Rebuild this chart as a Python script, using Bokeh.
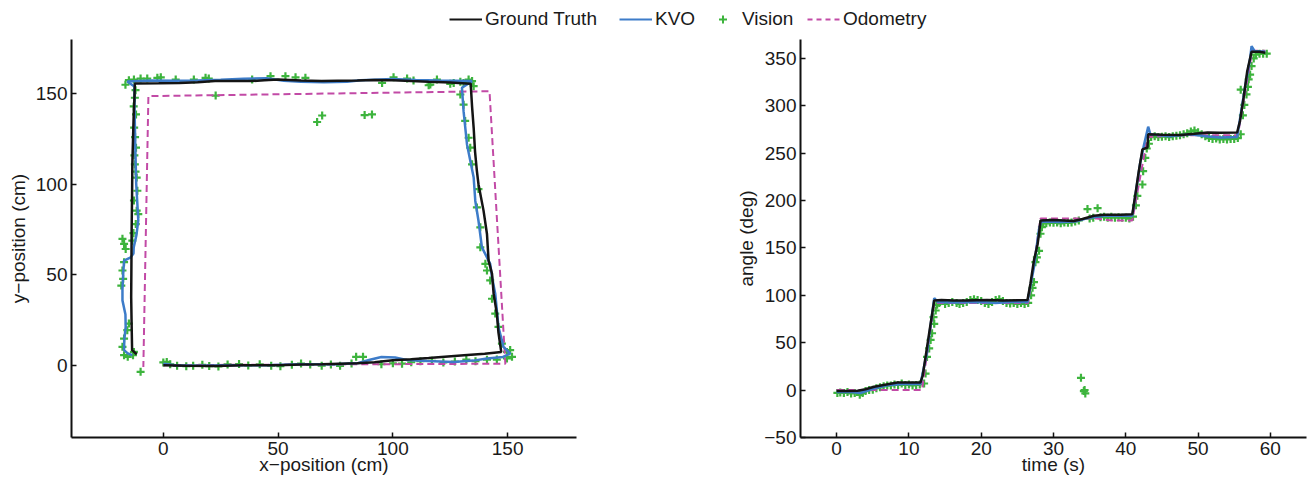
from bokeh.plotting import figure
from bokeh.models import Range1d, FixedTicker, Legend, LegendItem
from bokeh.layouts import column, row
from bokeh.embed import file_html
from bokeh.resources import INLINE

# ---------------- data: trajectory (cm) ----------------
gt_x = [0, 10, 22.5, 35, 50, 60, 69, 77, 84.5, 92, 100, 108, 115.6, 124, 131, 140, 147.2,
        146, 145.3, 143.9, 143.2, 141.7, 141, 139.5, 137.3, 136.6, 135.8, 135.2, 134.5, 133.9,
        125, 115.6, 108, 100, 92, 84.5, 76, 69, 60, 50, 44, 38, 30, 22.5, 15, 7, -2, -12.4,
        -12.6, -12.9, -13.2, -13.5, -13.6, -13.8, -13.9, -14, -13.8, -13.6, -11.6]
gt_y = [0, -0.3, -0.5, 0, 0, 0.3, 0.5, 0.8, 1, 1.6, 2.7, 3.2, 3.9, 4.8, 5.5, 6.3, 7.3,
        18, 28.5, 39.5, 50.5, 57.8, 72.5, 85.4, 100, 107.4, 118, 131.2, 143, 155.6,
        156.2, 156.6, 157, 157.5, 157.6, 157.3, 157.2, 157, 157.4, 157.9, 157.5, 157, 157.1, 157, 156.4, 156, 155.8, 155.7,
        147, 138.6, 125, 111, 95, 74.4, 55, 37.6, 22, 8.3, 6]

kvo_x = [0, 5, 15, 30, 45, 60, 75, 85, 90, 95, 101, 106, 115, 126.5, 135, 141, 148, 151.1,
         148.2, 146, 144.6, 143.2, 142.4, 138.8, 137.3, 135.9, 135.2, 132.3, 130.8, 130.1, 134.5,
         120, 110, 100, 86, 80, 70, 60, 52.5, 45, 35, 25, 15, 5, -5, -15.7,
         -12.6, -12.5, -12.2, -11.8, -10.9, -11.7, -12.9, -13, -14.2, -17.1, -17.5, -17.8, -17.8,
         -16.5, -16.4, -17, -17.1, -15.5, -13.5]
kvo_y = [0.8, 0, -0.3, 0, 0, 0.5, 0.5, 1.2, 3, 4.5, 4.2, 2.8, 2.3, 1.8, 2.5, 3.7, 4.5, 6.4,
         10.1, 21.1, 39.5, 48.6, 56, 65.1, 79.8, 90.9, 103.7, 122, 140.4, 153.3, 157,
         157.3, 157.6, 158.2, 157.5, 156.6, 156.4, 156.6, 157.2, 158.6, 158.3, 157.8, 157.4, 157.2, 157.3, 156.8,
         154, 140, 120, 100, 80, 72, 65, 61.7, 59.6, 57.8, 50, 42, 35.8,
         28, 21.1, 14, 8.3, 6.5, 5.5]

vis_x = [0, 1.5, 3, 6, 10, 13, 17, 20, 24, 28, 33, 37, 42, 47, 51, 56, 60, 64, 69, 73, 77, 82, 84, 87,
         95, 100, 104, 108, 112, 117, 122, 127, 132, 136, 141, 145.3, 149.7, 151.9, 151.1, 149.7,
         147.5, 146, 144.6, 143.2, 142.4, 141, 140.3, 138.1, 138.1, 136.6, 137.3, 134.5, 133.7, 133,
         131.5, 130.8, 129.4, 135.2, 134.5, 133,
         130.8, 129.4, 126.5, 125, 119.2, 116.3, 115.6, 109, 106.2, 100.3, 95.3, 61.9, 57.6, 53.2,
         46.7, 38.7, 22.8, 19.8, 18.4, 13.3, 5.4, -1.1, -2.6, -7, -9.9, -12.8, -15, -16.5,
         67, 69.2, 87.7, 90.9,
         -12.1, -12.4, -12.9, -11.9, -12.7, -12.3, -11.9, -12.6, -12.4, -12.1, -11.6, -11.3, -12.8,
         -11.6, -10.9, -12.0, -13.0, -13.5, -17.8, -17.1, -16.4, -17.1, -17.8, -17.5, -18.3,
         -15, -15.7, -17.1, -17.8, -17.1, -15.5, -12.8, -13.2, -9.9]
vis_y = [1.5, 1.8, 0.5, -0.4, -0.6, -0.3, 0.2, -0.5, -0.7, 0.4, 0.6, -0.2, 0.5, -0.3, -0.6, 0.2, 0.9, 0.3, -0.3, 0.4, -0.4, 0.9, 4.6, 4.6,
         0.5, 1, 0.8, 1.6, 2.2, 2.4, 1.5, 2, 3, 2.2, 3, 3.1, 3.7, 4.6, 8.3, 7.3,
         11.9, 21.1, 28.5, 36.7, 46.8, 52.3, 56, 65.1, 76.2, 87.2, 97.3, 111, 120.2, 125.7,
         135, 144, 149.6, 154.2, 157, 157.9,
         156, 156.6, 156, 155.5, 157.9, 155.1, 154.7, 157.3, 158.4, 159.1, 156, 158.8, 159.1, 159.7,
         159.7, 157.9, 149, 158.4, 158.8, 157.9, 157.9, 159.1, 158.8, 158.4, 158.4, 157.9, 157.5, 155,
         134.4, 138, 138.2, 138.6,
         152, 147.8, 143, 138.6, 131.3, 126, 120.2, 116, 111, 107, 103.7, 96.4, 91,
         85.4, 83.5, 78, 73, 68.8, 69.8, 67, 64.2, 56.9, 52.3, 47.7, 44,
         23, 19.3, 14.7, 10.1, 5.5, 4.6, 7.3, 5.5, -3.7]

odo_x = [0, 149, 142.1, -6.5, -8.7]
odo_y = [0, 0.8, 151.4, 148.7, -1]

# ---------------- data: heading angle over time ----------------
gt_t = [0, 1.5, 2.9, 4, 5.2, 6.5, 8.4, 10, 11.6, 11.9, 12.3, 12.7, 13.1, 13.5, 14.5, 16.2, 18, 20.8, 23, 26.4,
        26.8, 27.3, 27.8, 28.0, 28.2, 30, 32.8, 34, 35.6, 37, 39.3, 40.9, 41.3, 41.8, 42.3, 43.0, 43.1,
        45, 47.6, 49.5, 51.3, 53, 55.4, 55.8, 56.3, 56.8, 57.4, 58.5, 59.3]
gt_a = [-1, -1, -0.7, 1, 3.5, 5.5, 8, 8, 8.1, 15, 35, 55, 75, 94.7, 95, 94.7, 94.5, 95, 94.5, 95,
        112, 137, 154, 165, 179, 179.5, 178.5, 180.5, 184, 185, 185, 185.5, 205, 231, 254, 256, 270,
        269.5, 269.3, 270.5, 271.8, 271.5, 271.8, 284, 308.5, 336.6, 357, 357, 356]

kvo_t = [0, 2, 3.3, 5, 7, 9, 11.6, 12.5, 13.2, 13.5, 14, 16, 20, 22, 24, 26.4, 27.3, 28, 28.3, 31, 33, 35, 37,
         40.9, 42, 42.5, 43.1, 43.4, 46, 49, 51, 53, 55.4, 56.5, 57.2, 57.4, 57.8, 59.3]
kvo_a = [-2, -2, -3, 1.5, 5, 6.5, 6.5, 40, 80, 97, 93, 92.5, 93, 92, 93, 93, 130, 170, 178, 177.5, 178, 182, 184,
         184, 240, 258, 278, 270, 268, 270, 268, 266.5, 267, 320, 350, 363, 358, 357]

odo_t = [0, 11.8, 13.5, 26.5, 28.2, 33, 36, 38, 40.9, 43, 47, 55.5, 57.5, 59.3]
odo_a = [0, 0, 92, 92, 181, 181, 181, 179, 179, 267, 269, 269, 358, 358]

vis_t = [0.1, 0.5, 1, 1.5, 2, 2.5, 3.2, 3.6, 4, 4.5, 5, 5.5, 6, 6.5, 7, 7.5, 8, 8.5, 9, 9.5, 10, 10.5, 11, 11.5,
         12.1, 12.3, 12.5, 12.8, 13, 13.2, 13.4, 13.5, 13.7, 13.9,
         14.2, 15, 15.5, 16, 16.6, 17, 17.5, 18, 18.5, 19, 19.5, 20, 20.5, 21, 21.5, 22, 22.5, 23, 23.5, 24,
         24.5, 25, 25.5, 26, 26.5,
         26.9, 27.1, 27.3, 27.5, 27.7, 28, 28.2, 28.4,
         28.6, 29, 29.5, 30, 30.5, 31, 31.5, 32, 32.5, 33, 33.5, 34.7, 36.1, 35, 35.5, 36.5, 37, 37.5, 38,
         38.5, 39, 39.5, 40, 40.5, 41,
         33.8, 34.3, 34.4, 34.2,
         41.4, 41.6, 42.3, 42.4, 42.7, 42.9, 43.2,
         43.5, 44, 44.5, 45, 45.5, 46, 46.5, 47, 47.5, 48, 48.5, 49, 49.5, 50, 50.5, 51, 51.5, 52, 52.5,
         53, 53.5, 54, 54.5, 55, 55.5, 55.9,
         55.9, 56.2, 56.4, 56.7, 56.9, 57.0, 57.2, 57.4, 57.7, 58, 58.5, 59, 59.5]
vis_a = [-3, -2.5, -3, -2, -3.5, -3, -5, -3, -1, 0, 0.5, 2, 3, 4, 5, 5, 6, 5.5, 7, 5.5, 6, 5, 5.5, 6,
         7, 17.5, 35, 44, 53, 60, 77, 70, 84, 90,
         92, 91, 92, 93, 92, 91, 92, 93, 95, 96, 95, 94, 92, 91, 93, 95, 96, 94, 92, 91.5,
         92, 91, 92, 91, 92,
         100, 108, 114, 135, 140, 147, 165, 172,
         177, 176, 177, 176.5, 177, 176, 177, 176.5, 177, 178, 179, 191, 192, 181, 182, 182.5, 183, 182, 183,
         182, 182.5, 182, 182, 181, 183,
         13, 0, -3.5, -1,
         195, 205, 217, 231, 245, 255, 260,
         267, 268, 267, 267.5, 268, 267, 268, 268.5, 269, 270, 271, 273, 274, 272, 270, 268, 266, 265, 265.5,
         264.5, 265, 264.5, 265, 265, 266, 270,
         317, 290, 301, 312, 320, 328, 333, 342, 350, 354, 355, 355, 355]

# tick values
xy_ticks = [0, 50, 100, 150]
time_ticks = [0, 10, 20, 30, 40, 50, 60]
angle_ticks = [-50, 0, 50, 100, 150, 200, 250, 300, 350]

NAN = float("nan")

FONT = "Liberation Sans"
TXT = "#1a1a1a"
BLACK = "#141414"
BLUE = "#3d7cc9"
GREEN = "#3db43d"
MAGENTA = "#c24aa6"


def style(p, xticks, yticks):
    p.xgrid.visible = False
    p.ygrid.visible = False
    p.outline_line_color = None
    p.background_fill_color = "white"
    p.border_fill_color = "white"
    for ax in (p.xaxis[0], p.yaxis[0]):
        ax.axis_line_width = 2
        ax.axis_line_color = "#111111"
        ax.major_tick_in = 5
        ax.major_tick_out = 0
        ax.major_tick_line_width = 1.5
        ax.major_tick_line_color = "#111111"
        ax.minor_tick_line_color = None
        ax.major_label_text_font = FONT
        ax.major_label_text_font_size = "19px"
        ax.major_label_text_color = TXT
        ax.major_label_standoff = 4
        ax.axis_label_text_font = FONT
        ax.axis_label_text_font_size = "19px"
        ax.axis_label_text_font_style = "normal"
        ax.axis_label_text_color = TXT
    p.xaxis[0].ticker = FixedTicker(ticks=xticks)
    p.yaxis[0].ticker = FixedTicker(ticks=yticks)
    p.xaxis[0].axis_label_standoff = -4
    p.yaxis[0].axis_label_standoff = 4


def draw(p, vx, vy, ox, oy, kx, ky, gx, gy):
    p.scatter(vx, vy, marker="cross", size=8, line_color=GREEN, line_width=2.2)
    p.line(ox, oy, line_color=MAGENTA, line_width=2, line_dash="7 4")
    p.line(kx, ky, line_color=BLUE, line_width=2.5)
    p.line(gx, gy, line_color=BLACK, line_width=2.5)


p1 = figure(frame_width=505, frame_height=398, min_border_left=71, min_border_right=154,
            min_border_top=0, min_border_bottom=52,
            x_range=Range1d(-40, 180), y_range=Range1d(-40, 180),
            toolbar_location=None, output_backend="svg",
            x_axis_label="x\u2212position (cm)", y_axis_label="y\u2212position (cm)")
style(p1, xy_ticks, xy_ticks)
draw(p1, vis_x, vis_y, odo_x, odo_y, kvo_x, kvo_y, gt_x, gt_y)

p2 = figure(frame_width=506, frame_height=398, min_border_left=70, min_border_right=3,
            min_border_top=0, min_border_bottom=52,
            x_range=Range1d(-5, 65), y_range=Range1d(-50, 370),
            toolbar_location=None, output_backend="svg",
            x_axis_label="time (s)", y_axis_label="angle (deg)")
style(p2, time_ticks, angle_ticks)
p2.yaxis[0].major_label_overrides = {-50: "\u221250"}
draw(p2, vis_t, vis_a, odo_t, odo_a, kvo_t, kvo_a, gt_t, gt_a)

# legend strip across the top (proxy renderers hold no drawable data)
p0 = figure(width=1309, height=39, x_range=Range1d(0, 1), y_range=Range1d(0, 1),
            x_axis_location=None, y_axis_location=None, min_border=0,
            toolbar_location=None, output_backend="svg")
p0.outline_line_color = None
p0.grid.visible = False
r_gt = p0.line(x=[NAN], y=[NAN], line_color=BLACK, line_width=2)
r_kvo = p0.line(x=[NAN], y=[NAN], line_color=BLUE, line_width=2)
r_vis = p0.scatter(x=[NAN], y=[NAN], marker="cross", size=6, line_color=GREEN, line_width=2)
r_odo = p0.line(x=[NAN], y=[NAN], line_color=MAGENTA, line_width=2, line_dash="5 4")

for r, lab, lx in [(r_gt, "Ground Truth", 449), (r_kvo, "KVO", 619),
                   (r_vis, "Vision", 706), (r_odo, "Odometry", 807)]:
    lg = Legend(items=[LegendItem(label=lab, renderers=[r])], location=(lx, 9),
                padding=0, margin=0, border_line_color=None, background_fill_alpha=0,
                glyph_width=33, glyph_height=20, label_standoff=3, label_height=20,
                label_text_font=FONT, label_text_font_size="19px", label_text_color=TXT,
                spacing=0)
    p0.add_layout(lg)

layout = column(p0, row(p1, p2, spacing=0), spacing=0)

open("out.html", "w").write(file_html(layout, INLINE))
